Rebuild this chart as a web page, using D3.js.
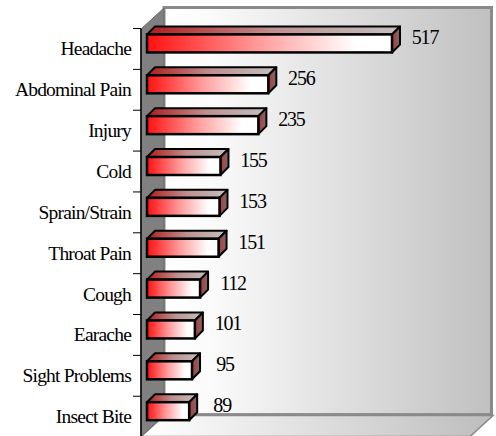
<!DOCTYPE html>
<html>
<head>
<meta charset="utf-8">
<script src="https://cdn.jsdelivr.net/npm/d3@7"></script>
<style>
    html, body { margin: 0; padding: 0; background: #ffffff; }
    svg { display: block; }
    text { font-family: "Liberation Serif", "Times New Roman", serif; fill: #000000; }
</style>
</head>
<body>
<div id="chart"></div>
<script>
    "use strict";

    // Data
    var categories = ["Headache", "Abdominal Pain", "Injury", "Cold", "Sprain/Strain",
        "Throat Pain", "Cough", "Earache", "Sight Problems", "Insect Bite"];
    var counts = [517, 256, 235, 155, 153, 151, 112, 101, 95, 89];

    var width = 496, height = 436;

    // box geometry (front plane / back plane)
    var frontX = 141, frontTop = 29, frontBottom = 436.6;
    var depthX = 23, depthY = 21;
    var wallRight = 493;

    // bar 3d depth
    var bdx = 8, bdy = 8;

    var svg = d3.select("#chart")
        .append("svg")
        .attr("width", width)
        .attr("height", height);

    var defs = svg.append("defs");

    function linGrad(id, stops, vertical) {
        var g = defs.append("linearGradient")
            .attr("id", id)
            .attr("x1", "0").attr("y1", "0")
            .attr("x2", vertical ? "0" : "1").attr("y2", vertical ? "1" : "0");
        stops.forEach(function (s) {
            g.append("stop").attr("offset", s[0]).attr("stop-color", s[1]);
        });
    }

    linGrad("wallGrad", [[0, "#ffffff"], [0.15, "#fafafa"], [1, "#c0c0c0"]]);
    linGrad("floorGrad", [[0, "#ffffff"], [1, "#bdbdbd"]]);
    linGrad("frontGrad", [[0, "#ff1010"], [0.45, "#ff9a9a"], [0.85, "#ffffff"], [1, "#ffffff"]]);
    linGrad("topGrad", [[0, "#b01c1c"], [0.5, "#bf9090"], [1, "#c4c0c0"]]);
    linGrad("endGrad", [[0, "#b03a3a"], [1, "#7c6a6a"]]);

    // Scales
    var x = d3.scaleLinear()
        .domain([0, 700])
        .range([147, 147 + 700 * 0.4739]);

    var y = d3.scaleBand()
        .domain(categories)
        .range([frontTop - 1, frontBottom])
        .padding(0);

    var bw = y.bandwidth();

    // ---------- walls ----------
    // back wall
    svg.append("rect")
        .attr("x", frontX + depthX)
        .attr("y", frontTop - depthY - 0.5)
        .attr("width", wallRight - frontX - depthX - 1.5)
        .attr("height", frontBottom - frontTop - 0.5)
        .style("fill", "url(#wallGrad)")
        .style("stroke", "#8a8a8a")
        .style("stroke-width", 3);

    // floor
    svg.append("polygon")
        .attr("points", [
            [frontX, frontBottom],
            [frontX + depthX, frontBottom - depthY],
            [wallRight, frontBottom - depthY],
            [wallRight - depthX, frontBottom]
        ].join(" "))
        .style("fill", "url(#floorGrad)")
        .style("stroke", "#8a8a8a")
        .style("stroke-width", 1.5);

    // left side wall
    svg.append("polygon")
        .attr("points", [
            [frontX, frontTop],
            [frontX + depthX, frontTop - depthY],
            [frontX + depthX, frontBottom - depthY],
            [frontX, frontBottom]
        ].join(" "))
        .style("fill", "#808080")
        .style("stroke", "#6a6a6a")
        .style("stroke-width", 1);

    // axis line + ticks
    svg.append("line")
        .attr("x1", frontX).attr("x2", frontX)
        .attr("y1", frontTop).attr("y2", frontBottom)
        .style("stroke", "#000000")
        .style("stroke-width", 1.5);

    var tickYs = categories.map(function (c) { return y(c); });
    svg.selectAll("line.tick")
        .data(tickYs)
        .enter()
        .append("line")
        .attr("class", "tick")
        .attr("x1", frontX - 8).attr("x2", frontX)
        .attr("y1", function (d) { return d + 0.5; })
        .attr("y2", function (d) { return d + 0.5; })
        .style("stroke", "#000000")
        .style("stroke-width", 1);

    // category labels
    svg.selectAll("text.cat")
        .data(categories)
        .enter()
        .append("text")
        .attr("class", "cat")
        .attr("x", 131)
        .attr("y", function (d) { return y(d) + bw / 2 + 7; })
        .attr("text-anchor", "end")
        .style("font-size", "19.5px")
        .style("letter-spacing", "-0.8px")
        .text(function (d) { return d; });

    // ---------- bars ----------
    var bars = svg.selectAll("g.bar")
        .data(categories.map(function (c, i) { return { name: c, value: counts[i] }; }))
        .enter()
        .append("g")
        .attr("class", "bar");

    function frontY(d) { return y(d.name) + bw / 2 - 14; }

    // top face
    bars.append("polygon")
        .attr("points", function (d) {
            var x0 = x(0), x1 = x(d.value), yt = frontY(d);
            return [[x0, yt], [x0 + bdx, yt - bdy], [x1 + bdx, yt - bdy], [x1, yt]].join(" ");
        })
        .style("fill", "url(#topGrad)")
        .style("stroke", "#000000")
        .style("stroke-width", 2)
        .style("stroke-linejoin", "round");

    // end face
    bars.append("polygon")
        .attr("points", function (d) {
            var x1 = x(d.value), yt = frontY(d);
            return [[x1, yt], [x1 + bdx, yt - bdy], [x1 + bdx, yt - bdy + 18], [x1, yt + 18]].join(" ");
        })
        .style("fill", "url(#endGrad)")
        .style("stroke", "#000000")
        .style("stroke-width", 2)
        .style("stroke-linejoin", "round");

    // front face
    bars.append("rect")
        .attr("x", x(0))
        .attr("y", frontY)
        .attr("width", function (d) { return x(d.value) - x(0); })
        .attr("height", 18)
        .style("fill", "url(#frontGrad)")
        .style("stroke", "#000000")
        .style("stroke-width", 2.5);

    // value labels
    bars.append("text")
        .attr("x", function (d) { return x(d.value) + 33; })
        .attr("y", function (d) { return y(d.name) + bw / 2 - 4; })
        .attr("text-anchor", "middle")
        .style("font-size", "20px")
        .style("letter-spacing", "-1.2px")
        .text(function (d) { return d.value; });
</script>
</body>
</html>
